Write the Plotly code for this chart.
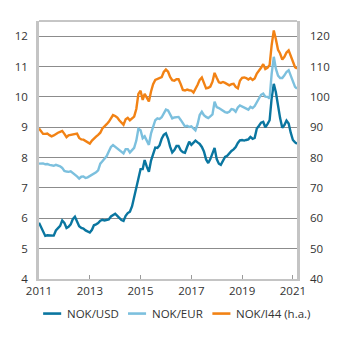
import pandas as pd
import plotly.graph_objects as go

# Monthly exchange rates, Jan 2011 - Mar 2021
months = pd.date_range("2011-01-01", "2021-03-01", freq="MS")

nok_usd = [
    5.85, 5.70, 5.55, 5.42, 5.44, 5.44, 5.42, 5.43, 5.60, 5.68, 5.75, 5.93,   # 2011
    5.85, 5.68, 5.72, 5.80, 5.97, 6.05, 5.92, 5.74, 5.68, 5.66, 5.60, 5.56,   # 2012
    5.53, 5.62, 5.77, 5.80, 5.84, 5.92, 5.95, 5.93, 5.94, 5.96, 6.06, 6.12,   # 2013
    6.15, 6.08, 6.00, 5.94, 5.91, 6.08, 6.17, 6.22, 6.40, 6.70, 6.95, 7.30,   # 2014
    7.62, 7.62, 7.92, 7.70, 7.53, 7.90, 8.15, 8.33, 8.32, 8.40, 8.62, 8.75,   # 2015
    8.80, 8.62, 8.36, 8.17, 8.25, 8.38, 8.38, 8.24, 8.18, 8.16, 8.35, 8.52,   # 2016
    8.42, 8.50, 8.56, 8.50, 8.45, 8.35, 8.20, 7.94, 7.82, 7.95, 8.12, 8.32,   # 2017
    7.95, 7.80, 7.76, 7.88, 8.02, 8.06, 8.15, 8.22, 8.27, 8.35, 8.48, 8.57,   # 2018
    8.58, 8.56, 8.58, 8.60, 8.68, 8.62, 8.65, 8.96, 9.05, 9.15, 9.18, 9.00,   # 2019
    9.10, 9.23, 9.95, 10.43, 10.15, 9.70, 9.30, 8.98, 9.07, 9.22, 9.12, 8.82, # 2020
    8.58, 8.50, 8.46,                                                         # 2021
]

nok_eur = [
    7.80, 7.80, 7.81, 7.78, 7.79, 7.76, 7.74, 7.73, 7.76, 7.74, 7.71, 7.66,   # 2011
    7.56, 7.54, 7.53, 7.55, 7.50, 7.43, 7.38, 7.31, 7.37, 7.38, 7.33, 7.35,   # 2012
    7.39, 7.42, 7.47, 7.52, 7.58, 7.80, 7.88, 7.97, 8.05, 8.20, 8.35, 8.41,   # 2013
    8.36, 8.30, 8.25, 8.19, 8.14, 8.28, 8.28, 8.17, 8.25, 8.32, 8.56, 8.95,   # 2014
    8.90, 8.64, 8.70, 8.55, 8.42, 8.80, 9.05, 9.23, 9.29, 9.27, 9.33, 9.46,   # 2015
    9.58, 9.55, 9.40, 9.29, 9.32, 9.34, 9.34, 9.24, 9.15, 9.03, 9.05, 9.01,   # 2016
    9.03, 8.96, 8.90, 9.10, 9.40, 9.51, 9.40, 9.34, 9.30, 9.36, 9.42, 9.84,   # 2017
    9.66, 9.63, 9.58, 9.55, 9.50, 9.48, 9.51, 9.60, 9.58, 9.51, 9.65, 9.72,   # 2018
    9.68, 9.66, 9.62, 9.58, 9.67, 9.63, 9.70, 9.84, 9.97, 10.07, 10.11, 10.01, # 2019
    10.00, 9.95, 10.75, 11.32, 10.93, 10.70, 10.62, 10.62, 10.71, 10.82, 10.88, 10.70,  # 2020
    10.45, 10.33, 10.27,                                                      # 2021
]

# Import-weighted krone index (I-44), right-hand axis
nok_i44 = [
    89.6, 88.7, 87.8, 87.8, 87.9, 87.4, 87.0, 87.3, 87.9, 88.2, 88.5, 88.8,   # 2011
    87.8, 86.7, 87.3, 87.4, 87.5, 87.7, 87.9, 86.5, 86.0, 85.9, 85.4, 85.0,   # 2012
    84.6, 85.6, 86.4, 86.9, 87.5, 88.2, 89.6, 90.2, 91.0, 91.8, 92.9, 94.0,   # 2013
    93.7, 93.2, 92.3, 91.5, 90.8, 92.6, 93.1, 92.3, 92.8, 93.5, 96.0, 101.0,  # 2014
    102.0, 99.0, 101.0, 99.6, 98.5, 101.8, 104.2, 105.6, 105.9, 106.1, 106.5, 108.2,  # 2015
    109.0, 108.3, 106.6, 105.5, 105.3, 105.8, 105.8, 104.2, 102.3, 102.1, 102.4, 102.2,  # 2016
    102.1, 101.4, 102.5, 104.0, 105.6, 106.4, 104.6, 102.8, 103.0, 103.4, 105.0, 107.9,  # 2017
    106.3, 104.8, 104.6, 104.9, 104.6, 104.3, 103.8, 104.2, 104.3, 103.3, 102.8, 105.3,  # 2018
    106.3, 106.4, 106.2, 105.7, 106.2, 105.6, 106.1, 107.7, 108.6, 109.6, 110.8, 109.2,  # 2019
    109.6, 110.5, 117.0, 121.9, 119.0, 115.5, 114.3, 112.3, 113.2, 114.6, 115.3, 113.6,  # 2020
    111.5, 109.8, 109.3,                                                      # 2021
]

series_names = ["NOK/USD", "NOK/EUR", "NOK/I44 (h.a.)"]
series_colors = ["#0a76a0", "#7cc0de", "#f28214"]

x_ticks = ["2011-01-01", "2013-01-01", "2015-01-01", "2017-01-01", "2019-01-01", "2021-01-01"]
x_tick_labels = ["2011", "2013", "2015", "2017", "2019", "2021"]
left_ticks = [4, 5, 6, 7, 8, 9, 10, 11, 12]
right_ticks = [40, 50, 60, 70, 80, 90, 100, 110, 120]

FONT = "Open Sans"
TEXT = "#333333"
GRID = "#8c8c8c"
AXIS = "#c4c4c4"

fig = go.Figure()
fig.add_trace(go.Scatter(x=months, y=nok_usd, name=series_names[0], mode="lines",
                         line=dict(color=series_colors[0], width=2.4), yaxis="y"))
fig.add_trace(go.Scatter(x=months, y=nok_eur, name=series_names[1], mode="lines",
                         line=dict(color=series_colors[1], width=2.4), yaxis="y"))
fig.add_trace(go.Scatter(x=months, y=nok_i44, name=series_names[2], mode="lines",
                         line=dict(color=series_colors[2], width=2.4), yaxis="y2"))

fig.update_layout(
    width=345, height=341,
    margin=dict(l=39, r=48, t=21, b=62),
    paper_bgcolor="white", plot_bgcolor="white",
    showlegend=False,
    font=dict(family=FONT, size=11.5, color=TEXT),
    xaxis=dict(
        type="date", range=["2011-01-01", "2021-03-01"],
        tickvals=x_ticks, ticktext=x_tick_labels,
        ticks="inside", ticklen=4, tickwidth=1, tickcolor="#9a9a9a",
        showgrid=False, zeroline=False,
        showline=True, linecolor=AXIS, linewidth=2,
        tickfont=dict(family=FONT, size=11.5, color=TEXT),
    ),
    yaxis=dict(
        range=[4, 12.5], tickvals=left_ticks,
        showgrid=True, gridcolor=GRID, gridwidth=1,
        zeroline=False, showline=True, linecolor=AXIS, linewidth=2.5,
        ticks="", ticklabelstandoff=6,
        tickfont=dict(family=FONT, size=11.5, color=TEXT),
    ),
    yaxis2=dict(
        range=[40, 125], tickvals=right_ticks, overlaying="y", side="right",
        showgrid=False, zeroline=False, showline=True, linecolor=AXIS, linewidth=2.5,
        ticks="", ticklabelstandoff=8,
        tickfont=dict(family=FONT, size=11.5, color=TEXT),
    ),
)

# Top frame line
fig.add_shape(type="line", xref="paper", yref="paper", x0=0, x1=1, y0=1, y1=1,
              line=dict(color=GRID, width=1), layer="below")

# Legend drawn below the plot: short line samples followed by labels
legend_x = [0.016, 0.345, 0.672]
legend_y = -0.134
for i, (name, color) in enumerate(zip(series_names, series_colors)):
    x0 = legend_x[i]
    fig.add_shape(type="line", xref="paper", yref="paper",
                  x0=x0, x1=x0 + 0.07, y0=legend_y, y1=legend_y,
                  line=dict(color=color, width=2.6))
    fig.add_annotation(xref="paper", yref="paper", x=x0 + 0.085, y=legend_y,
                       text=name, showarrow=False, xanchor="left", yanchor="middle",
                       font=dict(family=FONT, size=11.5, color=TEXT))

fig.write_html("out.html")
